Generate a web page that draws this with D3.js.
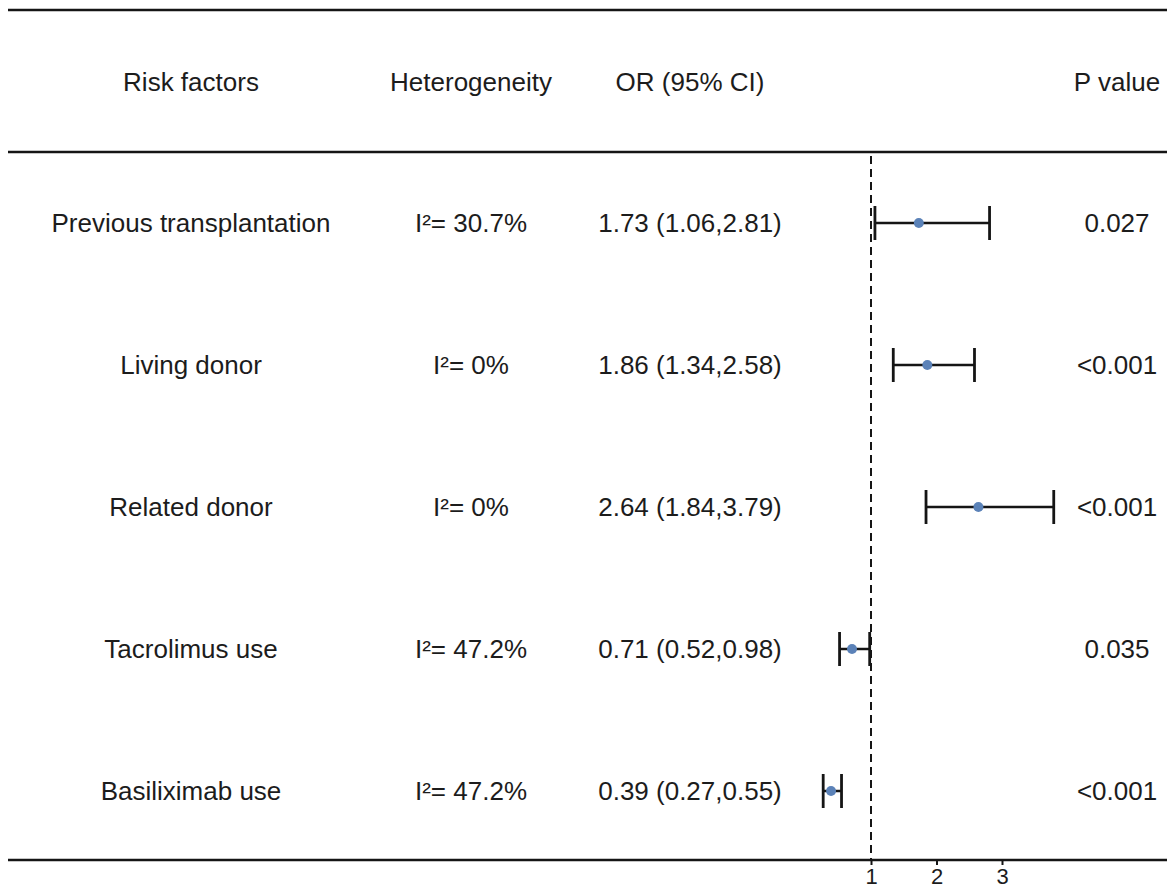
<!DOCTYPE html>
<html>
<head>
<meta charset="utf-8">
<script src="https://cdn.jsdelivr.net/npm/d3@7"></script>
<style>
  html, body { margin: 0; padding: 0; background: #fff; }
  svg { display: block; }
  text { font-family: "Liberation Sans", Arial, sans-serif; fill: #1c1c1c; }
</style>
</head>
<body>
<svg id="chart" width="1167" height="890"></svg>
<script>
// Forest plot data: risk factors with pooled odds ratios
const factors = ["Previous transplantation", "Living donor", "Related donor", "Tacrolimus use", "Basiliximab use"];
const heterogeneity = ["I\u00B2= 30.7%", "I\u00B2= 0%", "I\u00B2= 0%", "I\u00B2= 47.2%", "I\u00B2= 47.2%"];
const orValues = [1.73, 1.86, 2.64, 0.71, 0.39];
const ciLower = [1.06, 1.34, 1.84, 0.52, 0.27];
const ciUpper = [2.81, 2.58, 3.79, 0.98, 0.55];
const pValues = ["0.027", "<0.001", "<0.001", "0.035", "<0.001"];
const headers = ["Risk factors", "Heterogeneity", "OR (95% CI)", "P value"];
const axisTicks = [1, 2, 3];

const svg = d3.select("#chart");
const W = 1167, H = 890;

const lineColor = "#151515";
const dotColor = "#5b82b8";
const fontSize = 26;

// Column centres for the table text
const colX = { factor: 191, het: 471, or: 690, p: 1117 };
const headerY = 82;
const topRule = 10, headerRule = 152, bottomRule = 860;

// Scales
const x = d3.scaleLinear().domain([1, 3]).range([871, 1002]);
const y = d3.scalePoint().domain(factors).range([223, 791]);

// Horizontal rules
[topRule, headerRule, bottomRule].forEach(yy => {
  svg.append("line")
    .attr("x1", 8).attr("x2", W)
    .attr("y1", yy).attr("y2", yy)
    .attr("stroke", lineColor).attr("stroke-width", 2.5);
});

// Header labels
const headerPos = [colX.factor, colX.het, colX.or, colX.p];
svg.selectAll("text.header")
  .data(headers)
  .join("text")
  .attr("class", "header")
  .attr("x", (d, i) => headerPos[i])
  .attr("y", headerY)
  .attr("dy", "0.35em")
  .attr("text-anchor", "middle")
  .attr("font-size", fontSize)
  .text(d => d);

// Reference line at OR = 1
svg.append("line")
  .attr("x1", x(1)).attr("x2", x(1))
  .attr("y1", headerRule + 4).attr("y2", bottomRule)
  .attr("stroke", lineColor)
  .attr("stroke-width", 2)
  .attr("stroke-dasharray", "8,5");

// Bottom axis (ticks and labels only; rule drawn above)
const axis = svg.append("g")
  .attr("transform", `translate(0,${bottomRule})`)
  .call(d3.axisBottom(x).tickValues(axisTicks).tickFormat(d3.format("d")).tickSize(5).tickPadding(3));
axis.select(".domain").remove();
axis.selectAll(".tick line").attr("stroke", lineColor).attr("stroke-width", 2);
axis.selectAll(".tick text")
  .attr("font-size", 22)
  .attr("fill", "#1c1c1c")
  .style("font-family", '"Liberation Sans", Arial, sans-serif');

// Table rows
const rows = svg.selectAll("g.row")
  .data(factors.map((f, i) => ({
    factor: f,
    het: heterogeneity[i],
    or: orValues[i],
    lo: ciLower[i],
    hi: ciUpper[i],
    p: pValues[i]
  })))
  .join("g")
  .attr("class", "row")
  .attr("transform", d => `translate(0,${y(d.factor)})`);

const addText = (sel, xPos, fn) => sel.append("text")
  .attr("x", xPos).attr("y", 0).attr("dy", "0.35em")
  .attr("text-anchor", "middle")
  .attr("font-size", fontSize)
  .text(fn);

addText(rows, colX.factor, d => d.factor);
addText(rows, colX.het, d => d.het);
addText(rows, colX.or, d => `${d.or.toFixed(2)} (${d.lo.toFixed(2)},${d.hi.toFixed(2)})`);
addText(rows, colX.p, d => d.p);

// Confidence intervals
const capHalf = 17;
rows.append("line")
  .attr("x1", d => x(d.lo)).attr("x2", d => x(d.hi))
  .attr("y1", 0).attr("y2", 0)
  .attr("stroke", lineColor).attr("stroke-width", 2.5);
rows.append("line")
  .attr("x1", d => x(d.lo)).attr("x2", d => x(d.lo))
  .attr("y1", -capHalf).attr("y2", capHalf)
  .attr("stroke", lineColor).attr("stroke-width", 2.8);
rows.append("line")
  .attr("x1", d => x(d.hi)).attr("x2", d => x(d.hi))
  .attr("y1", -capHalf).attr("y2", capHalf)
  .attr("stroke", lineColor).attr("stroke-width", 2.8);

// Point estimates
rows.append("circle")
  .attr("cx", d => x(d.or))
  .attr("cy", 0)
  .attr("r", 5)
  .attr("fill", dotColor);
</script>
</body>
</html>
